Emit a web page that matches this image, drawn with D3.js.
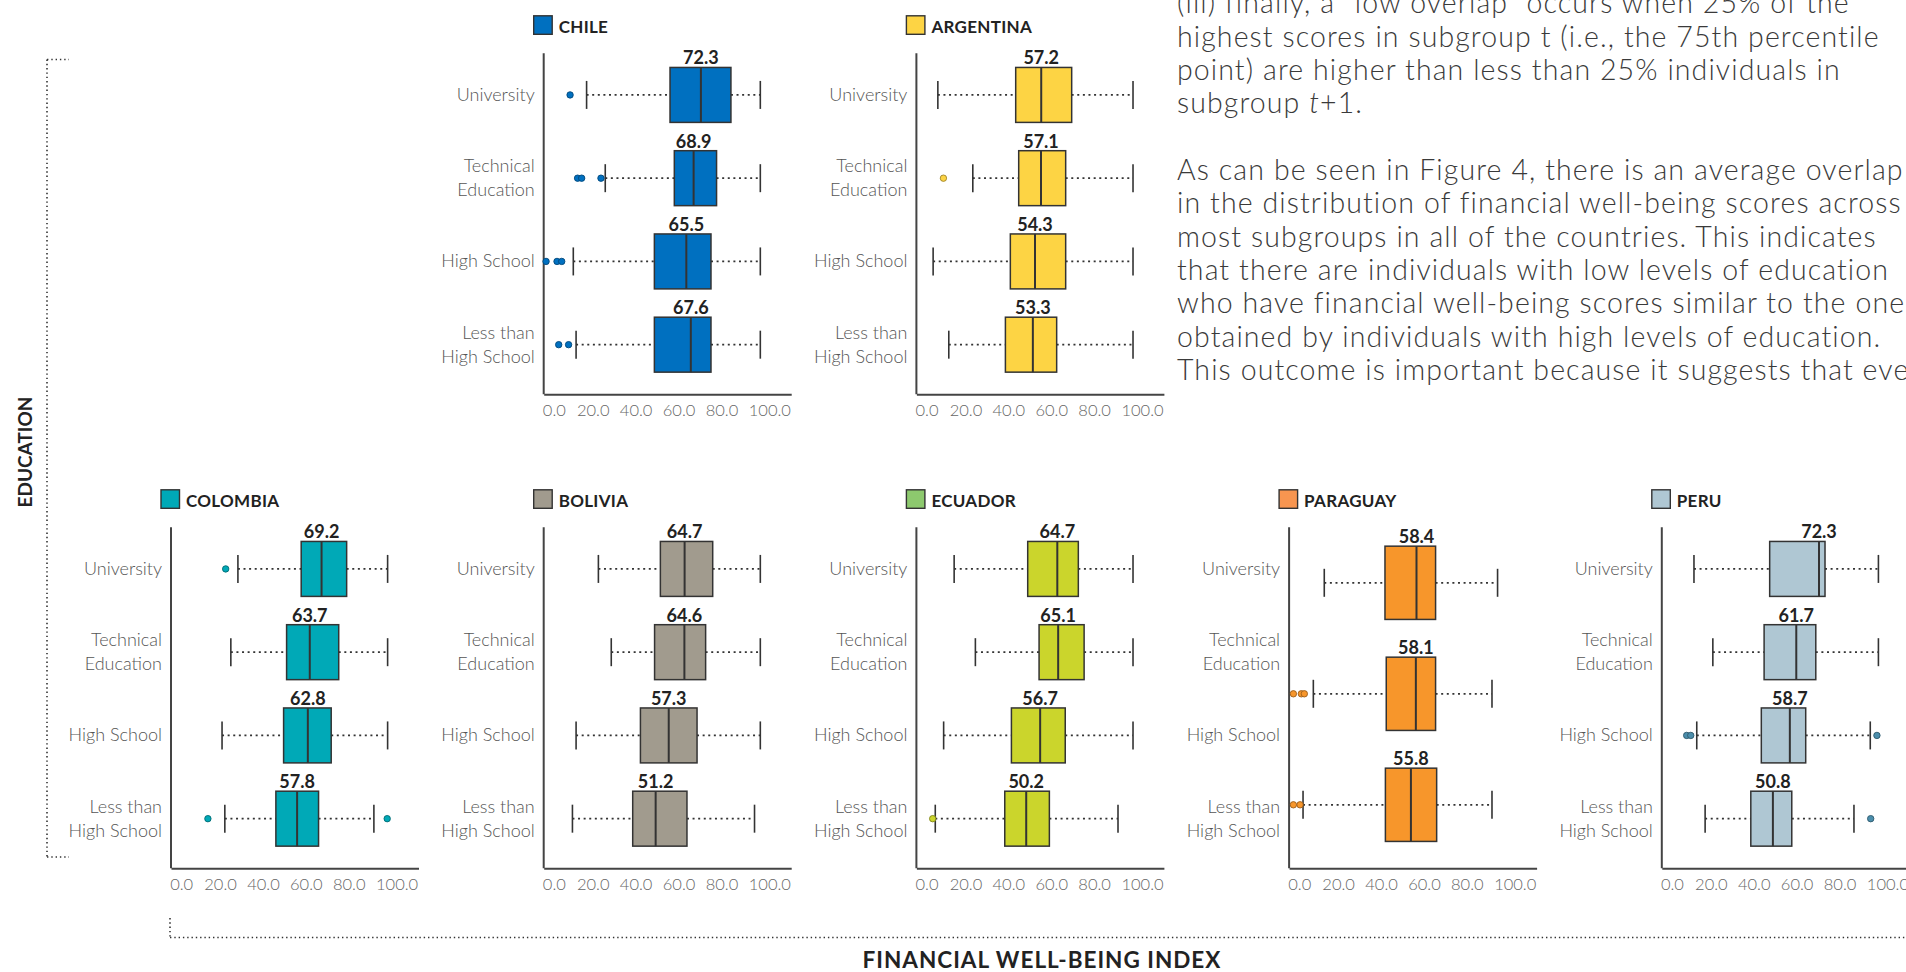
<!DOCTYPE html>
<html>
<head>
<meta charset="utf-8">
<script src="https://cdn.jsdelivr.net/npm/d3@7"></script>
<style>
  html, body { margin: 0; padding: 0; background: #fff; overflow: hidden; }
  svg { display: block; }
</style>
</head>
<body>
<svg id="chart" width="1906" height="972"></svg>
<script>
// ---------------- data ----------------
const countries = ["CHILE", "ARGENTINA", "COLOMBIA", "BOLIVIA", "ECUADOR", "PARAGUAY", "PERU"];
const educationLevels = ["University", "Technical Education", "High School", "Less than High School"];
const paraguayLevels = ["University", "Technical Education", "Less than High School"];
const levelLines = [["University"], ["Technical", "Education"], ["High School"], ["Less than", "High School"]];
const tickValues = [0, 20, 40, 60, 80, 100];

// box-plot statistics, one row per country, one entry per education level
const whiskerLow = [
  [19.0, 27.7, 12.8, 14.1],
  [9.0, 25.3, 6.8, 14.1],
  [30.2, 26.9, 22.8, 24.1],
  [24.5, 30.5, 14.1, 12.4],
  [16.6, 26.5, 11.7, 7.8],
  [15.4, 10.3, 5.5],
  [14.0, 22.8, 15.3, 19.2]
];
const quartile1 = [
  [57.9, 59.9, 50.6, 50.6],
  [45.3, 46.7, 42.8, 40.5],
  [59.7, 52.9, 51.5, 47.9],
  [53.4, 50.7, 44.1, 40.5],
  [50.9, 56.2, 43.3, 40.2],
  [43.7, 44.3, 43.9],
  [49.3, 46.7, 45.4, 40.5]
];
const medians = [
  [72.3, 68.9, 65.5, 67.6],
  [57.2, 57.1, 54.3, 53.3],
  [69.2, 63.7, 62.8, 57.8],
  [64.7, 64.6, 57.3, 51.2],
  [64.7, 65.1, 56.7, 50.2],
  [58.4, 58.1, 55.8],
  [72.3, 61.7, 58.7, 50.8]
];
const quartile3 = [
  [86.3, 79.6, 77.0, 77.0],
  [71.4, 68.6, 68.6, 64.4],
  [80.9, 77.2, 73.7, 67.8],
  [77.8, 74.5, 70.5, 65.8],
  [74.5, 77.2, 68.4, 61.0],
  [67.3, 67.3, 67.8],
  [75.1, 70.8, 66.1, 59.6]
];
const whiskerHigh = [
  [100, 100, 100, 100],
  [100, 100, 100, 100],
  [100, 100, 100, 93.6],
  [100, 100, 100, 97.3],
  [100, 100, 100, 93.0],
  [96.2, 93.6, 93.6],
  [100, 100, 96.2, 88.6]
];
const outliers = [
  [[11.3], [14.8, 16.7, 25.7], [0.1, 5.2, 7.4], [6.0, 10.6]],
  [[], [11.6], [], []],
  [[24.5], [], [], [16.2, 99.8]],
  [[], [], [], []],
  [[], [], [], [6.6]],
  [[], [1.0, 4.7, 6.1], [1.0, 4.1]],
  [[], [], [10.6, 12.5, 99.3], [96.4]]
];

// colours
const boxColors   = ["#0070c0", "#fdd444", "#00a9b7", "#a19b8e", "#cbd52c", "#f7962b", "#afc7d3"];
const keyColors   = ["#0070c0", "#fdd444", "#00a9b7", "#a19b8e", "#8dc96e", "#f79550", "#afc7d3"];
const pointColors = ["#0070c0", "#fdd444", "#00a9b7", "#a19b8e", "#cbd52c", "#f7962b", "#4b8eac"];

// accompanying paragraph
const paragraphLines = [
  "(iii) finally, a \u201Clow overlap\u201D occurs when 25% of the",
  "highest scores in subgroup t (i.e., the 75th percentile",
  "point) are higher than less than 25% individuals in",
  null,
  "",
  "As can be seen in Figure 4, there is an average overlap",
  "in the distribution of financial well-being scores across",
  "most subgroups in all of the countries. This indicates",
  "that there are individuals with low levels of education",
  "who have financial well-being scores similar to the ones",
  "obtained by individuals with high levels of education.",
  "This outcome is important because it suggests that even"
];

// ---------------- layout ----------------
const panelCol = [1, 2, 0, 1, 2, 3, 4];
const panelRow = [0, 0, 1, 1, 1, 1, 1];
const colX = c => 171 + c * 372.7;       // y-axis position of a panel column
const rowTop = [53.3, 527.3];            // top of the y-axis line per row
const axisHeight = 341;
const plotWidth = 247.5;
const capHalf = 14;

const FONT = "Lato, 'Source Sans Pro', 'Open Sans', sans-serif";
const svg = d3.select("#chart").style("font-family", FONT);

// tick labels sit slightly right of their tick, the end ones a little more
const tickShift = d => (d === 0 ? 8 : d === 100 ? 9 : 4);

countries.forEach((name, i) => {
  const ax = colX(panelCol[i]);
  const top = rowTop[panelRow[i]];
  const bottom = top + axisHeight;
  const levels = i === 5 ? paraguayLevels : educationLevels;

  const x = d3.scaleLinear().domain([-1, 114.4]).range([ax, ax + plotWidth]);
  const yLabel = d3.scalePoint().domain(educationLevels).range([top, top + 333]).padding(0.5);
  const y = d3.scalePoint().domain(levels).range([top, top + 333]).padding(0.5);
  const boxH = y.step() * 0.66;

  const g = svg.append("g").attr("class", "panel");

  // title key
  g.append("rect")
    .attr("x", ax - 10).attr("y", top - 37.5)
    .attr("width", 18.5).attr("height", 18.5)
    .attr("fill", keyColors[i]).attr("stroke", "#333").attr("stroke-width", 1.4);
  g.append("text")
    .attr("x", ax + 15).attr("y", top - 20.5)
    .attr("font-size", 17).attr("font-weight", 700).attr("fill", "#222")
    .attr("letter-spacing", 0.3)
    .text(name);

  // category labels
  const yAxis = g.append("g")
    .attr("transform", `translate(${ax},0)`)
    .call(d3.axisLeft(yLabel).tickSize(0).tickPadding(9));
  yAxis.select(".domain").remove();
  yAxis.selectAll(".tick text").each(function (d) {
    const t = d3.select(this);
    const lines = levelLines[educationLevels.indexOf(d)];
    t.text(null).attr("dy", null)
      .attr("font-family", FONT).attr("font-size", 18).attr("font-weight", 300)
      .attr("fill", "#555");
    if (lines.length === 1) {
      t.append("tspan").attr("x", -9).attr("dy", "0.3em").text(lines[0]);
    } else {
      t.append("tspan").attr("x", -9).attr("dy", "-0.37em").text(lines[0]);
      t.append("tspan").attr("x", -9).attr("dy", "1.35em").text(lines[1]);
    }
  });

  // axis lines
  g.append("line")
    .attr("x1", ax).attr("x2", ax).attr("y1", top).attr("y2", bottom)
    .attr("stroke", "#444").attr("stroke-width", 2);
  const xAxis = g.append("g")
    .attr("transform", `translate(0,${bottom})`)
    .call(d3.axisBottom(x).tickValues(tickValues).tickSize(0).tickPadding(10)
      .tickFormat(d3.format(".1f")));
  xAxis.select(".domain").attr("stroke", "#444").attr("stroke-width", 2);
  xAxis.selectAll(".tick text")
    .attr("font-family", FONT).attr("font-size", 16.5).attr("font-weight", 300)
    .attr("fill", "#666").attr("dx", tickShift);

  // boxes
  levels.forEach((lvl, k) => {
    const cy = y(lvl);
    const lo = whiskerLow[i][k], q1 = quartile1[i][k], md = medians[i][k],
          q3 = quartile3[i][k], hi = whiskerHigh[i][k];
    const bg = g.append("g").attr("class", "box");

    // dotted whiskers
    [[lo, q1], [q3, hi]].forEach(([a, b]) => {
      bg.append("line")
        .attr("x1", x(a)).attr("x2", x(b)).attr("y1", cy).attr("y2", cy)
        .attr("stroke", "#333").attr("stroke-width", 1.8)
        .attr("stroke-dasharray", "2,3.6");
    });
    // whisker caps
    [lo, hi].forEach(v => {
      bg.append("line")
        .attr("x1", x(v)).attr("x2", x(v)).attr("y1", cy - capHalf).attr("y2", cy + capHalf)
        .attr("stroke", "#333").attr("stroke-width", 1.6);
    });
    // box
    bg.append("rect")
      .attr("x", x(q1)).attr("y", cy - boxH / 2)
      .attr("width", x(q3) - x(q1)).attr("height", boxH)
      .attr("fill", boxColors[i]).attr("stroke", "#333").attr("stroke-width", 1.5);
    // median
    bg.append("line")
      .attr("x1", x(md)).attr("x2", x(md))
      .attr("y1", cy - boxH / 2).attr("y2", cy + boxH / 2)
      .attr("stroke", "#333").attr("stroke-width", 2);
    // outliers
    bg.selectAll("circle.out").data(outliers[i][k]).join("circle")
      .attr("class", "out")
      .attr("cx", d => x(d)).attr("cy", cy).attr("r", 3.2)
      .attr("fill", pointColors[i])
      .attr("stroke", d3.color(pointColors[i]).darker(1.3)).attr("stroke-width", 0.9);
    // median label
    bg.append("text")
      .attr("x", x(md)).attr("y", cy - boxH / 2 - 3)
      .attr("text-anchor", "middle")
      .attr("font-size", 18).attr("font-weight", 700).attr("fill", "#222")
      .text(d3.format(".1f")(md));
  });
});

// shared axis titles and brackets
const dots = { stroke: "#333", "stroke-width": 1.6, "stroke-dasharray": "1.4,2.9" };
function dotted(x1, y1, x2, y2) {
  const l = svg.append("line").attr("x1", x1).attr("y1", y1).attr("x2", x2).attr("y2", y2);
  Object.entries(dots).forEach(([k, v]) => l.attr(k, v));
  return l;
}
dotted(47, 59.5, 47, 857);
dotted(47, 59.5, 69, 59.5);
dotted(47, 857, 69, 857);
dotted(170, 918, 170, 937.5);
dotted(170, 937.5, 1906, 937.5);

svg.append("text")
  .attr("transform", "translate(32,452) rotate(-90)")
  .attr("text-anchor", "middle")
  .attr("font-size", 19).attr("font-weight", 700).attr("fill", "#222")
  .text("EDUCATION");

svg.append("text")
  .attr("x", 1042).attr("y", 968)
  .attr("text-anchor", "middle")
  .attr("font-size", 22.5).attr("font-weight", 700).attr("fill", "#222")
  .attr("letter-spacing", 1)
  .text("FINANCIAL WELL-BEING INDEX");

// paragraph
const para = svg.append("g")
  .attr("font-family", FONT)
  .attr("font-size", 28.5).attr("font-weight", 300).attr("fill", "#3a3a3a")
  .attr("letter-spacing", 1.1);
paragraphLines.forEach((line, k) => {
  const t = para.append("text").attr("x", 1177).attr("y", 13.3 + k * 33.35);
  if (line === null) {
    t.append("tspan").text("subgroup ");
    t.append("tspan").attr("font-style", "italic").text("t");
    t.append("tspan").text("+1.");
  } else {
    t.text(line);
  }
});
</script>
</body>
</html>
